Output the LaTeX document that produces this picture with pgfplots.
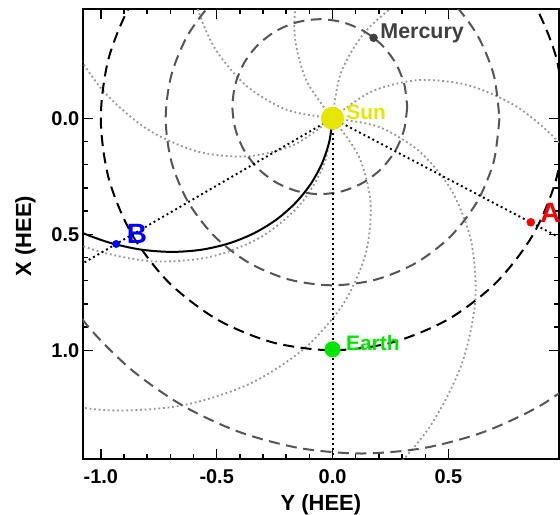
\documentclass[border=0pt]{standalone}
\usepackage{pgfplots}
\pgfplotsset{compat=1.18}
\usepgfplotslibrary{polar}
\usepackage{fontspec}
\setmainfont{Liberation Sans}
\definecolor{sunc}{RGB}{230,230,0}
\definecolor{earthc}{RGB}{0,230,0}
\definecolor{mercc}{RGB}{64,64,64}
\definecolor{orbc}{RGB}{85,85,85}
\definecolor{spc}{RGB}{150,150,150}
\begin{document}
\begin{tikzpicture}
\begin{axis}[
  scale only axis, width=476.3bp, height=450.3bp,
  at={(82.7bp,55.7bp)}, anchor=south west,
  xmin=-1.078, xmax=0.977, ymin=-0.471, ymax=1.47,
  y dir=reverse,
  xtick={-1,-0.5,0,0.5}, xticklabels={-1.0,-0.5,0.0,0.5},
  ytick={0,0.5,1}, yticklabels={0.0,0.5,1.0},
  minor tick num=4,
  tick align=inside,
  major tick length=10bp, minor tick length=5bp,
  tick style={black, line width=1.5bp},
  axis line style={line width=2bp},
  ticklabel style={font=\fontsize{20}{24}\selectfont\bfseries},
  xticklabel style={yshift=-7bp},
]
% Sun
\addplot[only marks, mark=*, mark size=11.3bp, color=sunc, mark options={draw=sunc, fill=sunc}] coordinates {(0,0)};
% gray dotted spirals
\pgfplotsset{spir/.style={spc, line width=1.8bp, dash pattern=on 1.8bp off 2.8bp, smooth, data cs=polar}}
\addplot[spir] coordinates {(90,0) (100.4,0.2) (110.8,0.4) (121.2,0.6) (131.6,0.8) (142,1.0) (152.4,1.2) (162.8,1.4) (173.2,1.6) (183.6,1.8) (194,2.0)};
\addplot[spir] coordinates {(135,0) (145.4,0.2) (155.8,0.4) (166.2,0.6) (176.6,0.8) (187,1.0) (197.4,1.2) (207.8,1.4) (218.2,1.6) (228.6,1.8) (239,2.0)};
\addplot[spir] coordinates {(180,0) (190.4,0.2) (200.8,0.4) (211.2,0.6) (221.6,0.8) (232,1.0) (242.4,1.2) (252.8,1.4) (263.2,1.6) (273.6,1.8) (284,2.0)};
\addplot[spir] coordinates {(225,0) (235.4,0.2) (245.8,0.4) (256.2,0.6) (266.6,0.8) (277,1.0) (287.4,1.2) (297.8,1.4) (308.2,1.6) (318.6,1.8) (329,2.0)};
\addplot[spir] coordinates {(270,0) (280.4,0.2) (290.8,0.4) (301.2,0.6) (311.6,0.8) (322,1.0) (332.4,1.2) (342.8,1.4) (353.2,1.6) (363.6,1.8) (374,2.0)};
\addplot[spir] coordinates {(315,0) (325.4,0.2) (335.8,0.4) (346.2,0.6) (356.6,0.8) (367,1.0) (377.4,1.2) (387.8,1.4) (398.2,1.6) (408.6,1.8) (419,2.0)};
\addplot[spir] coordinates {(360,0) (370.4,0.2) (380.8,0.4) (391.2,0.6) (401.6,0.8) (412,1.0) (422.4,1.2) (432.8,1.4) (443.2,1.6) (453.6,1.8) (464,2.0)};
\addplot[spir] coordinates {(405,0) (415.4,0.2) (425.8,0.4) (436.2,0.6) (446.6,0.8) (457,1.0) (467.4,1.2) (477.8,1.4) (488.2,1.6) (498.6,1.8) (509,2.0)};
% orbits
\pgfplotsset{orb/.style={orbc, line width=2bp, dash pattern=on 11bp off 6.5bp, smooth}}
% Mercury
\addplot[orb] coordinates {(0.322,-0.05) (0.3091,0.0476) (0.2715,0.1385) (0.2116,0.2166) (0.1335,0.2765) (0.0426,0.3141) (-0.055,0.327) (-0.1526,0.3141) (-0.2435,0.2765) (-0.3216,0.2166) (-0.3815,0.1385) (-0.4191,0.0476) (-0.432,-0.05) (-0.4191,-0.1476) (-0.3815,-0.2385) (-0.3216,-0.3166) (-0.2435,-0.3765) (-0.1526,-0.4141) (-0.055,-0.427) (0.0426,-0.4141) (0.1335,-0.3765) (0.2116,-0.3166) (0.2715,-0.2385) (0.3091,-0.1476) (0.322,-0.05)};
% Venus
\addplot[orb, data cs=polar] coordinates {(0,0.72) (15,0.72) (30,0.72) (45,0.72) (60,0.72) (75,0.72) (90,0.72) (105,0.72) (120,0.72) (135,0.72) (150,0.72) (165,0.72) (180,0.72) (195,0.72) (210,0.72) (225,0.72) (240,0.72) (255,0.72) (270,0.72) (285,0.72) (300,0.72) (315,0.72) (330,0.72) (345,0.72) (360,0.72)};
% Mars
\addplot[orb] coordinates {(1.118,1.0835) (0.8975,1.238) (0.6534,1.3518) (0.3932,1.4215) (0.125,1.445) (-0.1432,1.4215) (-0.4034,1.3518) (-0.6475,1.238) (-0.8681,1.0835) (-1.0585,0.8931) (-1.213,0.6725)};
% Earth orbit
\addplot[black, line width=2bp, dash pattern=on 11bp off 6.5bp, smooth, data cs=polar] coordinates {(0,1) (15,1) (30,1) (45,1) (60,1) (75,1) (90,1) (105,1) (120,1) (135,1) (150,1) (165,1) (180,1) (195,1) (210,1) (225,1) (240,1) (255,1) (270,1) (285,1) (300,1) (315,1) (330,1) (345,1) (360,1)};
% black dotted lines
\pgfplotsset{bdot/.style={black, line width=1.9bp, dash pattern=on 1.9bp off 3.1bp, data cs=polar}}
\addplot[bdot] coordinates {(149.87,0) (149.87,1.3)};
\addplot[bdot] coordinates {(27.7,0) (27.7,1.2)};
\addplot[bdot] coordinates {(90,0) (90,1.6)};
% black spiral to B
\addplot[black, line width=2bp, smooth, data cs=polar] coordinates {(92.6,0) (97.89,0.1) (103.18,0.2) (108.47,0.3) (113.76,0.4) (119.05,0.5) (124.34,0.6) (129.63,0.7) (134.92,0.8) (140.21,0.9) (145.5,1.0) (150.79,1.1) (156.08,1.2) (161.37,1.3)};
% bodies
\addplot[only marks, mark=*, mark size=7.8bp, color=earthc, mark options={draw=earthc, fill=earthc}] coordinates {(0,0.996)};
\addplot[only marks, mark=*, mark size=4bp, color=mercc, mark options={draw=mercc, fill=mercc}] coordinates {(0.177,-0.347)};
\addplot[only marks, mark=*, mark size=4bp, color=red, mark options={draw=red, fill=red}] coordinates {(0.8552,0.4483)};
\addplot[only marks, mark=*, mark size=3.7bp, color=blue, mark options={draw=blue, fill=blue}] coordinates {(-0.9336,0.5418)};
\coordinate (sun) at (axis cs:0,0);
\coordinate (earth) at (axis cs:0,0.996);
\coordinate (merc) at (axis cs:0.177,-0.347);
\coordinate (sta) at (axis cs:0.8552,0.4483);
\coordinate (stb) at (axis cs:-0.9336,0.5418);
\end{axis}
\node[anchor=base west, text=sunc, font=\fontsize{21}{25}\selectfont\bfseries, inner sep=0pt] at ([xshift=13.7bp,yshift=-1.7bp]sun) {Sun};
\node[anchor=base west, text=earthc, font=\fontsize{21}{25}\selectfont\bfseries, inner sep=0pt] at ([xshift=13.4bp,yshift=-0.7bp]earth) {Earth};
\node[anchor=base west, text=mercc, font=\fontsize{21.5}{25}\selectfont\bfseries, inner sep=0pt] at ([xshift=6.7bp,yshift=-0.6bp]merc) {Mercury};
\node[anchor=base west, text=red, font=\fontsize{28}{32}\selectfont\bfseries, inner sep=0pt] at ([xshift=9.3bp,yshift=-0.4bp]sta) {A};
\node[anchor=base west, text=blue, font=\fontsize{28}{32}\selectfont\bfseries, inner sep=0pt] at ([xshift=10.6bp,yshift=0.7bp]stb) {B};
\node[anchor=base, font=\fontsize{22}{26}\selectfont\bfseries, inner sep=0pt] at (320.9bp,4.5bp) {Y (HEE)};
\node[anchor=base, rotate=90, font=\fontsize{22}{26}\selectfont\bfseries, inner sep=0pt] at (31bp,279bp) {X (HEE)};
\pgfresetboundingbox
\useasboundingbox (0,0) rectangle (560bp,515bp);
\end{tikzpicture}
\end{document}
